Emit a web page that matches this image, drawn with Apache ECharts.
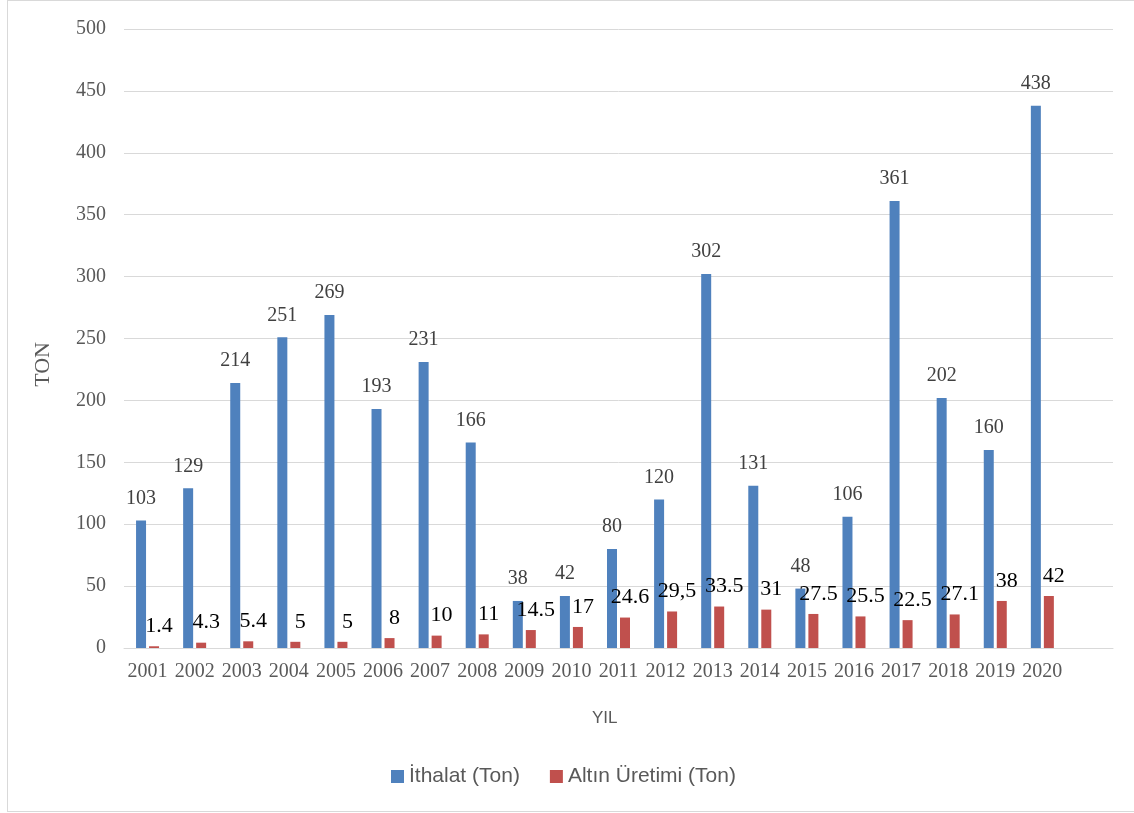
<!DOCTYPE html>
<html>
<head>
<meta charset="utf-8">
<script src="https://cdn.jsdelivr.net/npm/echarts@6/dist/echarts.min.js"></script>
<style>
    html, body { margin: 0; padding: 0; background: #fff; }
    #chart { position: absolute; left: 0; top: 0; width: 1134px; height: 813px; }
    #frame { position: absolute; left: 7px; top: 0; width: 1140px; height: 810px; border: 1px solid #d9d9d9; pointer-events: none; }
</style>
</head>
<body>
<div id="chart"></div>
<div id="frame"></div>
<script>
// ================* ITHALAT / URETIM *

var years = ['2001', '2002', '2003', '2004', '2005', '2006', '2007', '2008', '2009', '2010',
    '2011', '2012', '2013', '2014', '2015', '2016', '2017', '2018', '2019', '2020'];
var ithalat = [103, 129, 214, 251, 269, 193, 231, 166, 38, 42, 80, 120, 302, 131, 48, 106, 361, 202, 160, 438];
var uretim = [1.4, 4.3, 5.4, 5, 5, 8, 10, 11, 14.5, 17, 24.6, 29.5, 33.5, 31, 27.5, 25.5, 22.5, 27.1, 38, 42];
var uretimLabels = ['1.4', '4.3', '5.4', '5', '5', '8', '10', '11', '14.5', '17',
    '24.6', '29,5', '33.5', '31', '27.5', '25.5', '22.5', '27.1', '38', '42'];
var yTicks = { min: 0, max: 500, interval: 50 };

function drawChart() {
    var chart = echarts.init(document.getElementById('chart'));
    // axis runs one empty slot past 2020, like the original
    var cats = years.concat(['']);

    var option = {
        animation: false,
        textStyle: { fontFamily: 'Liberation Serif' },
        grid: {
            left: 124,
            right: 21,
            top: 29,
            bottom: 165
        },
        legend: {
            data: ['İthalat (Ton)', 'Altın Üretimi (Ton)'],
            left: 386,
            top: 761,
            itemWidth: 13,
            itemHeight: 13,
            itemGap: 30,
            icon: 'rect',
            textStyle: {
                fontFamily: 'Liberation Sans',
                fontSize: 21,
                color: '#595959'
            }
        },
        graphic: [{
            type: 'text',
            left: 32,
            top: 342,
            rotation: Math.PI / 2,
            style: {
                text: 'TON',
                font: '22px "Liberation Serif"',
                fill: '#595959'
            }
        }, {
            type: 'text',
            left: 592,
            top: 710,
            style: {
                text: 'YIL',
                font: '17px "Liberation Sans"',
                fill: '#595959'
            }
        }],
        xAxis: {
            type: 'category',
            data: cats,
            axisLine: { lineStyle: { color: '#d9d9d9', width: 1 } },
            axisTick: { show: false },
            axisLabel: {
                interval: 0,
                margin: 14,
                fontSize: 20,
                color: '#595959',
                fontFamily: 'Liberation Serif'
            }
        },
        yAxis: {
            type: 'value',
            min: yTicks.min,
            max: yTicks.max,
            interval: yTicks.interval,
            axisLine: { show: false },
            axisTick: { show: false },
            axisLabel: {
                margin: 18,
                fontSize: 20,
                color: '#595959',
                fontFamily: 'Liberation Serif'
            },
            splitLine: { lineStyle: { color: '#d9d9d9', width: 1 } }
        },
        series: [{
            name: 'İthalat (Ton)',
            type: 'bar',
            barWidth: 10,
            barGap: '30%',
            data: ithalat,
            itemStyle: { color: '#4F81BD' },
            label: {
                show: true,
                position: 'top',
                distance: 12,
                fontSize: 20,
                color: '#404040',
                fontFamily: 'Liberation Serif'
            }
        }, {
            name: 'Altın Üretimi (Ton)',
            type: 'bar',
            barWidth: 10,
            barGap: '30%',
            data: uretim,
            itemStyle: { color: '#C0504D' },
            label: {
                show: true,
                position: 'top',
                distance: 9,
                offset: [5, 0],
                fontSize: 22,
                color: '#000',
                fontFamily: 'Liberation Serif',
                formatter: function (p) {
                    return uretimLabels[p.dataIndex];
                }
            }
        }]
    };
    chart.setOption(option);
}

drawChart();
</script>
</body>
</html>
